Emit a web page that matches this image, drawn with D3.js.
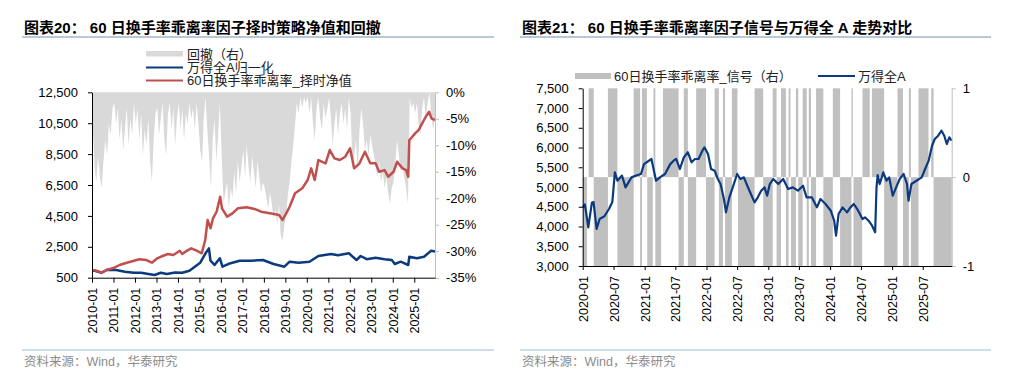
<!DOCTYPE html>
<html><head><meta charset="utf-8">
<script src="https://cdn.jsdelivr.net/npm/d3@7"></script>
<style>
body{margin:0;background:#fff}
svg{display:block}
text{font-family:"Liberation Sans","Noto Sans CJK SC",sans-serif}
</style>
</head><body>
<svg id="c" width="1024" height="385"></svg>
<script>
// ---------- DATA ----------
const leftTitle = "图表20：  60 日换手率乖离率因子择时策略净值和回撤";
const rightTitle = "图表21：  60 日换手率乖离率因子信号与万得全 A 走势对比";
const sourceText = "资料来源：Wind，华泰研究";
const leftLegend = ["回撤（右）", "万得全A归一化", "60日换手率乖离率_择时净值"];
const rightLegend = ["60日换手率乖离率_信号（右）", "万得全A"];

const leftYTicks = [500, 2500, 4500, 6500, 8500, 10500, 12500];
const leftY2Ticks = [0, -5, -10, -15, -20, -25, -30, -35];
const rightYTicks = [3000, 3500, 4000, 4500, 5000, 5500, 6000, 6500, 7000, 7500];
const rightY2Ticks = [-1, 0, 1];

// drawdown (%), monthly from 2010-01 to 2025-12
const drawdownPct = [
  4,14,17,12,16,18,13,9,12,6,8,3,      // 2010
  2,6,3,9,5,11,7,3,10,5,8,2,           // 2011
  6,3,9,4,12,7,10,5,13,17,9,4,         // 2012
  3,8,5,2,9,12,4,2,7,3,10,5,           // 2013
  2,7,3,9,4,6,2,5,3,7,2,6,             // 2014
  11,13,5,1,7,12,18,9,5,13,8,2,        // 2015
  12,21,19,17,22,18,20,15,19,13,17,14, // 2016
  11,16,10,14,17,12,15,18,13,16,19,17, // 2017
  18,20,22,19,21,24,22,25,21,27,28,25, // 2018
  23,19,17,13,10,6,2,4,1,3,1,2,        // 2019
  1,4,1,6,9,3,1,5,7,2,5,3,             // 2020
  1,5,10,6,3,8,4,2,6,3,7,1,            // 2021
  4,14,12,9,15,7,3,6,11,9,12,8,        // 2022
  10,12,14,16,13,17,15,18,16,19,21,18, // 2023
  17,13,9,12,15,14,16,18,21,1,3,2,     // 2024
  4,2,6,8,3,1,5,2,0,4,7,5              // 2025
];

const strategyNav = [
  ["2010-01-04",1000],["2010-03-15",953],["2010-06-15",823],["2010-09-15",1016],
  ["2011-01-15",1147],["2011-04-15",1322],["2011-08-15",1470],["2011-12-15",1600],
  ["2012-03-15",1690],["2012-07-15",1645],["2012-10-15",1470],["2013-01-15",1755],
  ["2013-04-15",1904],["2013-07-15",2033],["2013-10-15",1970],["2014-02-01",2247],
  ["2014-03-15",2033],["2014-05-15",2200],["2014-08-15",2400],["2014-11-15",2247],
  ["2015-02-10",2080],["2015-04-10",2940],["2015-05-20",4233],["2015-07-10",3696],
  ["2015-08-20",4343],["2015-10-20",4770],["2015-12-20",5743],["2016-01-20",4990],
  ["2016-04-15",4447],["2016-07-15",4667],["2016-10-15",4990],["2017-03-15",5055],
  ["2017-08-15",4926],["2017-11-15",4770],["2018-04-15",4667],["2018-09-15",4557],
  ["2018-11-15",4233],["2019-01-15",4667],["2019-03-15",5094],["2019-06-15",5960],
  ["2019-10-15",6284],["2020-01-15",6823],["2020-03-15",7578],["2020-05-15",6823],
  ["2020-07-15",8115],["2020-11-15",7902],["2021-01-25",8762],["2021-04-15",8225],
  ["2021-07-15",8115],["2021-10-15",8330],["2022-01-05",8872],["2022-03-15",7578],
  ["2022-06-15",7902],["2022-09-15",8652],["2022-12-15",7902],["2023-03-15",7902],
  ["2023-05-15",7358],["2023-08-15",7466],["2023-10-15",7034],["2024-01-15",7358],
  ["2024-03-15",8005],["2024-06-15",7578],["2024-08-15",7466],["2024-09-20",7034],
  ["2024-10-08",9400],["2025-01-15",9840],["2025-03-15",10050],["2025-05-15",10490],
  ["2025-07-15",10918],["2025-09-10",11240],["2025-10-20",10810],["2025-12-19",10700]
];

const windANormalized = [
  ["2010-01-04",1000],["2010-06-15",823],["2010-09-15",1016],["2011-02-15",1000],
  ["2011-07-15",888],["2011-12-15",823],["2012-04-15",823],["2012-08-15",740],
  ["2012-12-01",675],["2013-03-15",823],["2013-06-25",740],["2013-11-15",840],
  ["2014-03-15",823],["2014-07-15",953],["2014-10-15",1212],["2015-01-15",1470],
  ["2015-04-15",2079],["2015-06-12",2400],["2015-07-08",1600],["2015-09-15",1322],
  ["2015-12-15",1755],["2016-01-28",1212],["2016-05-15",1400],["2016-11-15",1600],
  ["2017-05-15",1600],["2017-12-15",1645],["2018-06-15",1386],["2018-12-15",1212],
  ["2019-03-15",1535],["2019-08-15",1470],["2020-02-15",1535],["2020-07-15",1904],
  ["2021-02-15",2033],["2021-06-15",1950],["2021-12-15",2079],["2022-04-25",1645],
  ["2022-07-05",1904],["2022-10-15",1700],["2023-03-15",1794],["2023-08-15",1700],
  ["2023-12-15",1645],["2024-02-05",1386],["2024-05-15",1535],["2024-09-20",1322],
  ["2024-10-08",1860],["2025-02-15",1755],["2025-06-15",1860],["2025-10-15",2247],
  ["2025-12-19",2200]
];

const windA = [
  ["2020-01-02",4480],["2020-01-14",4560],["2020-02-03",3980],["2020-02-24",4600],
  ["2020-03-05",4620],["2020-03-23",3940],["2020-04-10",4190],["2020-05-08",4260],
  ["2020-06-05",4450],["2020-06-24",4620],["2020-07-09",5370],["2020-07-24",5160],
  ["2020-08-20",5290],["2020-09-10",4990],["2020-10-15",5245],["2020-11-12",5290],
  ["2020-12-10",5330],["2020-12-28",5580],["2021-02-10",5710],["2021-03-09",5160],
  ["2021-04-01",5245],["2021-05-01",5330],["2021-06-01",5580],["2021-06-25",5684],
  ["2021-07-06",5710],["2021-07-28",5456],["2021-08-20",5750],["2021-09-13",5880],
  ["2021-10-05",5625],["2021-10-25",5710],["2021-11-15",5710],["2021-12-08",5920],
  ["2021-12-20",6005],["2022-01-10",5836],["2022-01-28",5456],["2022-02-18",5413],
  ["2022-03-09",5203],["2022-03-25",5076],["2022-04-14",4696],["2022-04-26",4358],
  ["2022-05-16",4738],["2022-06-05",4992],["2022-07-01",5330],["2022-07-20",5203],
  ["2022-08-10",5245],["2022-08-30",5033],["2022-09-20",4823],["2022-10-12",4612],
  ["2022-10-31",4738],["2022-11-20",4907],["2022-12-10",4992],["2022-12-25",4780],
  ["2023-01-10",5076],["2023-01-30",5203],["2023-03-01",5076],["2023-03-30",5203],
  ["2023-04-28",4950],["2023-05-26",4992],["2023-06-25",4907],["2023-07-25",5033],
  ["2023-08-15",4738],["2023-09-15",4738],["2023-10-15",4485],["2023-11-05",4696],
  ["2023-12-05",4570],["2024-01-05",4400],["2024-01-25",4147],["2024-02-05",3767],
  ["2024-02-20",4316],["2024-03-15",4485],["2024-04-10",4358],["2024-04-30",4485],
  ["2024-05-20",4570],["2024-06-15",4400],["2024-07-10",4190],["2024-07-25",4233],
  ["2024-08-15",4147],["2024-09-05",4021],["2024-09-23",3853],["2024-10-01",4992],
  ["2024-10-08",5300],["2024-10-20",5076],["2024-11-10",5372],["2024-11-28",5160],
  ["2024-12-15",5245],["2025-01-05",4780],["2025-01-25",4992],["2025-02-15",5203],
  ["2025-03-10",5330],["2025-03-30",5076],["2025-04-08",4653],["2025-04-25",5076],
  ["2025-05-25",5160],["2025-06-25",5245],["2025-07-15",5456],["2025-08-05",5667],
  ["2025-08-25",6046],["2025-09-10",6216],["2025-09-30",6299],["2025-10-20",6426],
  ["2025-11-05",6299],["2025-11-20",6089],["2025-12-05",6258],["2025-12-19",6173]
];

// signal segments: [start, end, value]
const signalSegments = [
  ["2020-01-02","2020-01-26",-1],["2020-02-05","2020-03-06",1],["2020-03-06","2020-05-29",-1],
  ["2020-05-29","2020-07-24",1],["2020-07-24","2020-10-28",-1],["2020-10-28","2020-12-05",1],
  ["2020-12-05","2020-12-16",-1],["2020-12-16","2021-01-14",1],["2021-01-16","2021-02-18",-1],
  ["2021-02-22","2021-03-05",1],["2021-03-05","2021-04-08",-1],["2021-04-19","2021-07-20",1],
  ["2021-07-20","2021-08-20",-1],["2021-08-20","2021-09-13",1],["2021-09-13","2021-11-01",-1],
  ["2021-11-01","2021-12-29",1],["2021-12-29","2022-02-18",-1],["2022-02-18","2022-03-15",1],
  ["2022-03-15","2022-04-08",-1],["2022-04-08","2022-04-21",1],["2022-04-21","2022-05-31",-1],
  ["2022-05-31","2022-07-03",1],["2022-07-06","2022-10-12",-1],["2022-10-12","2022-12-02",1],
  ["2022-12-02","2023-01-27",-1],["2023-01-27","2023-02-19",1],["2023-02-19","2023-03-17",-1],
  ["2023-03-17","2023-04-15",1],["2023-04-15","2023-05-01",-1],["2023-05-01","2023-05-12",1],
  ["2023-05-15","2023-06-13",-1],["2023-06-13","2023-06-27",1],["2023-06-27","2023-07-23",-1],
  ["2023-07-23","2023-08-16",1],["2023-08-16","2023-08-28",-1],["2023-08-28","2023-09-10",1],
  ["2023-09-10","2023-10-10",-1],["2023-10-10","2023-11-22",1],["2023-11-22","2024-01-17",-1],
  ["2024-01-17","2024-02-29",1],["2024-02-29","2024-05-06",-1],["2024-05-06","2024-05-14",1],
  ["2024-05-18","2024-07-08",-1],["2024-07-10","2024-08-22",1],["2024-09-04","2024-11-15",1],
  ["2024-11-15","2025-02-02",-1],["2025-02-02","2025-03-06",1],["2025-03-06","2025-04-10",-1],
  ["2025-04-10","2025-04-22",1],["2025-04-22","2025-06-06",-1],["2025-06-06","2025-08-04",1],
  ["2025-08-20","2025-09-03",1],["2025-09-03","2025-12-19",-1]
];

// ---------- DRAW ----------
const parse = d3.timeParse("%Y-%m-%d");
const svg = d3.select("#c");
const C_GRAY_DD = "#d9d9d9", C_SIG = "#c0c0c0", C_BLUE = "#0b3a7e", C_RED = "#c0504d";
const FS = 13;

function header(x0, x1, title, tx){
  svg.append("text").attr("x", tx).attr("y", 33).attr("font-size", 15).attr("font-weight", 700)
    .attr("fill", "#000").text(title);
  svg.append("line").attr("x1", x0).attr("x2", x1).attr("y1", 37).attr("y2", 37)
    .attr("stroke", "#a3b4c6").attr("stroke-width", 1.5);
  svg.append("line").attr("x1", x0).attr("x2", x1).attr("y1", 350).attr("y2", 350)
    .attr("stroke", "#9fbadb").attr("stroke-width", 1.2);
  svg.append("text").attr("x", tx).attr("y", 366).attr("font-size", 12.5).attr("fill", "#8c8c8c").text(sourceText);
}
header(22, 494, leftTitle, 24);
header(520, 991, rightTitle, 522);

// ===== LEFT CHART =====
const L = {x0: 92, x1: 435, yTop: 92.3, yBot: 277.7};
const xL = d3.scaleTime().domain([new Date(2010,0,1), parse("2025-12-19")]).range([L.x0, L.x1]);
const yL = d3.scaleLinear().domain([500, 12500]).range([L.yBot, L.yTop]);
const yL2 = d3.scaleLinear().domain([-35, 0]).range([L.yBot, L.yTop]);

const ddData = drawdownPct.map((v,i)=>{
  let d = new Date(2010, i, 15);
  if (i===0) d = parse("2010-01-04");
  if (i===drawdownPct.length-1) d = parse("2025-12-19");
  return {d, v};
});
svg.append("path").datum(ddData)
  .attr("d", d3.area().x(p=>xL(p.d)).y0(yL2(0)).y1(p=>yL2(-p.v)))
  .attr("fill", C_GRAY_DD);

const lineL = d3.line().x(p=>xL(parse(p[0]))).y(p=>yL(p[1]));
svg.append("path").datum(windANormalized).attr("d", lineL).attr("fill","none")
  .attr("stroke", C_BLUE).attr("stroke-width", 2.5).attr("stroke-linejoin","round");
svg.append("path").datum(strategyNav).attr("d", lineL).attr("fill","none")
  .attr("stroke", C_RED).attr("stroke-width", 2.5).attr("stroke-linejoin","round");

// left axis
const gLy = svg.append("g").attr("transform", `translate(${L.x0},0)`)
  .call(d3.axisLeft(yL).tickValues(leftYTicks).tickFormat(d3.format(",")).tickSize(4).tickSizeOuter(0));
gLy.selectAll("text").attr("font-size", FS).attr("fill","#000").attr("x", -14);
gLy.selectAll("line,path").attr("stroke","#000");
// right axis
const gLy2 = svg.append("g").attr("transform", `translate(${L.x1},0)`)
  .call(d3.axisRight(yL2).tickValues(leftY2Ticks).tickFormat(d=>d+"%").tickSize(4).tickSizeOuter(0));
gLy2.selectAll("text").attr("font-size", FS).attr("fill","#000").attr("x", 11);
gLy2.selectAll("line,path").attr("stroke","#bfbfbf");
// bottom axis
const gLx = svg.append("g").attr("transform", `translate(0,${L.yBot})`)
  .call(d3.axisBottom(xL).ticks(d3.timeYear.every(1)).tickFormat(d3.timeFormat("%Y-%m")).tickSize(5).tickSizeOuter(0));
gLx.selectAll("line,path").attr("stroke","#000");
gLx.selectAll("text").attr("font-size", 12.5).attr("fill","#000")
  .attr("transform","rotate(-90)").attr("text-anchor","end").attr("x",-10).attr("y",0).attr("dy","0.36em");

// left legend
const lg = svg.append("g");
lg.append("rect").attr("x",146).attr("y",51).attr("width",37).attr("height",5.5).attr("fill",C_GRAY_DD);
lg.append("line").attr("x1",146).attr("x2",183).attr("y1",67.5).attr("y2",67.5).attr("stroke",C_BLUE).attr("stroke-width",2);
lg.append("line").attr("x1",146).attr("x2",183).attr("y1",80.5).attr("y2",80.5).attr("stroke",C_RED).attr("stroke-width",2);
leftLegend.forEach((t,i)=>{
  lg.append("text").attr("x",187).attr("y",54+i*13.3).attr("dy","0.36em").attr("font-size",13).attr("fill","#222").text(t);
});

// ===== RIGHT CHART =====
const R = {x0: 582.7, x1: 951.7, yTop: 88.3, yBot: 266};
const xR = d3.scaleTime().domain([new Date(2020,0,1), parse("2025-12-19")]).range([R.x0, R.x1]);
const yR = d3.scaleLinear().domain([3000, 7500]).range([R.yBot, R.yTop]);
const yS = d3.scaleLinear().domain([-1, 1]).range([R.yBot, R.yTop]);

svg.append("g").selectAll("rect").data(signalSegments).join("rect")
  .attr("x", s=>xR(parse(s[0])))
  .attr("width", s=>Math.max(0.8, xR(parse(s[1]))-xR(parse(s[0]))))
  .attr("y", s=>Math.min(yS(0), yS(s[2])))
  .attr("height", s=>Math.abs(yS(s[2])-yS(0)))
  .attr("fill", C_SIG);

svg.append("path").datum(windA)
  .attr("d", d3.line().x(p=>xR(parse(p[0]))).y(p=>yR(p[1])))
  .attr("fill","none").attr("stroke", C_BLUE).attr("stroke-width", 2.2).attr("stroke-linejoin","round");

const gRy = svg.append("g").attr("transform", `translate(${R.x0},0)`)
  .call(d3.axisLeft(yR).tickValues(rightYTicks).tickFormat(d3.format(",")).tickSize(4).tickSizeOuter(0));
gRy.selectAll("text").attr("font-size", FS).attr("fill","#000").attr("x", -14);
gRy.selectAll("line,path").attr("stroke","#000");

const gRy2 = svg.append("g").attr("transform", `translate(${R.x1},0)`)
  .call(d3.axisRight(yS).tickValues(rightY2Ticks).tickFormat(d=>d).tickSize(4).tickSizeOuter(0));
gRy2.selectAll("text").attr("font-size", FS).attr("fill","#000").attr("x", 11);
gRy2.selectAll("line,path").attr("stroke","#bfbfbf");

const gRx = svg.append("g").attr("transform", `translate(0,${R.yBot})`)
  .call(d3.axisBottom(xR).ticks(d3.timeMonth.every(6)).tickFormat(d3.timeFormat("%Y-%m")).tickSize(4).tickSizeOuter(0));
gRx.selectAll("line,path").attr("stroke","#000");
gRx.selectAll("text").attr("font-size", 12.5).attr("fill","#000")
  .attr("transform","rotate(-90)").attr("text-anchor","end").attr("x",-10).attr("y",0).attr("dy","0.36em");

// right legend
const rg = svg.append("g");
rg.append("rect").attr("x",575).attr("y",73).attr("width",36).attr("height",6).attr("fill",C_SIG);
rg.append("text").attr("x",614).attr("y",76).attr("dy","0.36em").attr("font-size",13).attr("fill","#222").text(rightLegend[0]);
rg.append("line").attr("x1",818).attr("x2",855).attr("y1",76).attr("y2",76).attr("stroke",C_BLUE).attr("stroke-width",2);
rg.append("text").attr("x",858).attr("y",76).attr("dy","0.36em").attr("font-size",13).attr("fill","#222").text(rightLegend[1]);
</script>
</body></html>
